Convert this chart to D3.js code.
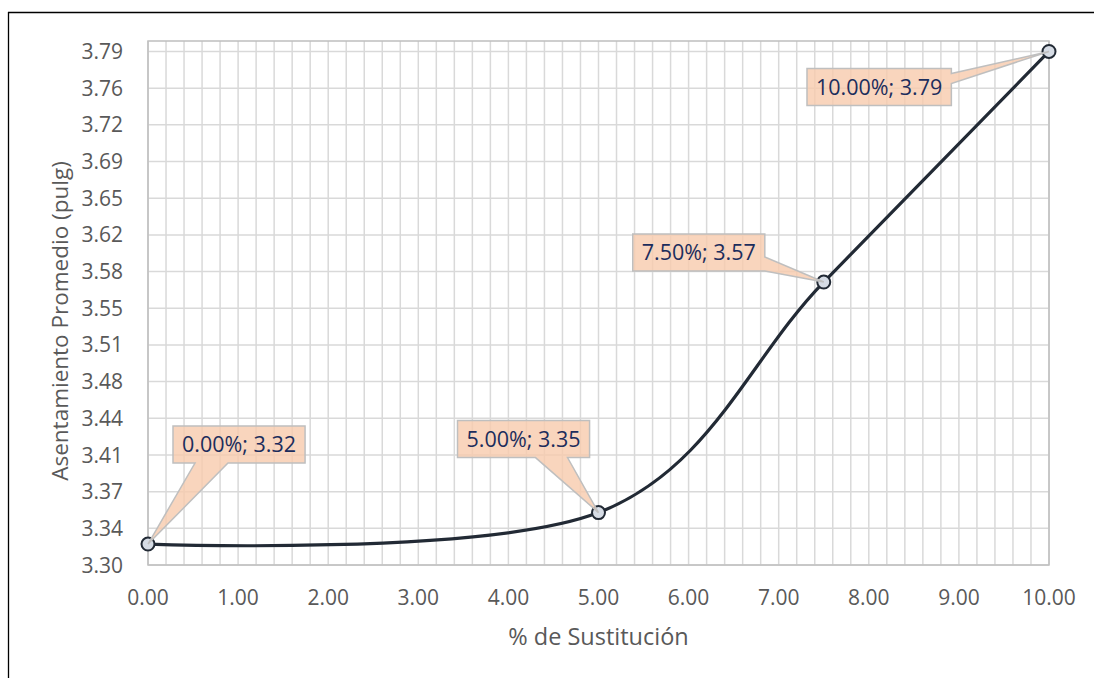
<!DOCTYPE html>
<html>
<head>
<meta charset="utf-8">
<script src="https://cdn.jsdelivr.net/npm/d3@7"></script>
<style>
  html, body { margin: 0; padding: 0; background: #fff; overflow: hidden; }
  svg { display: block; font-family: "Open Sans", "Noto Sans", sans-serif; }
</style>
</head>
<body>
<svg id="chart" width="1094" height="678"></svg>
<script>
// Percentage of substitution and average slump (in.)
const sustitucion = [0, 5, 7.5, 10];
const asentamiento = [3.32, 3.35, 3.57, 3.79];
const etiquetas = ["0.00%; 3.32", "5.00%; 3.35", "7.50%; 3.57", "10.00%; 3.79"];

// Axis ticks
const xTicks = [0, 1, 2, 3, 4, 5, 6, 7, 8, 9, 10];
const xTickLabels = ["0.00", "1.00", "2.00", "3.00", "4.00", "5.00", "6.00", "7.00", "8.00", "9.00", "10.00"];
const xMinorTicks = d3.range(0, 50).map(i => i / 5).filter(v => v % 1 !== 0);
const yTicks = [3.30, 3.335, 3.37, 3.405, 3.44, 3.475, 3.51, 3.545, 3.58, 3.615, 3.65, 3.685, 3.72, 3.755, 3.79];
const yTickLabels = ["3.30", "3.34", "3.37", "3.41", "3.44", "3.48", "3.51", "3.55", "3.58", "3.62", "3.65", "3.69", "3.72", "3.76", "3.79"];

const svg = d3.select("#chart");
const W = 1094, H = 678;
const plot = { left: 148, right: 1049, top: 41, bottom: 565 };

const x = d3.scaleLinear().domain([0, 10]).range([plot.left, plot.right]);
const y = d3.scaleLinear().domain([3.30, 3.80]).range([plot.bottom, plot.top]);

// Outer chart frame: left and top edges
const frame = svg.append("g").attr("stroke", "#000").attr("stroke-width", 1.3);
frame.append("line").attr("x1", 8.5).attr("x2", 8.5).attr("y1", 12).attr("y2", H + 5);
frame.append("line").attr("x1", 8).attr("x2", W + 5).attr("y1", 12.5).attr("y2", 12.5);

const grid = svg.append("g");
// Minor vertical gridlines
grid.selectAll("line.vminor").data(xMinorTicks).join("line")
  .attr("x1", d => x(d)).attr("x2", d => x(d))
  .attr("y1", plot.top).attr("y2", plot.bottom)
  .attr("stroke", "#d9d9d9").attr("stroke-width", 1.5);
// Major vertical gridlines
grid.selectAll("line.vmajor").data(xTicks).join("line")
  .attr("x1", d => x(d)).attr("x2", d => x(d))
  .attr("y1", plot.top).attr("y2", plot.bottom)
  .attr("stroke", "#d9d9d9").attr("stroke-width", 1.5);
// Horizontal gridlines
grid.selectAll("line.h").data(yTicks).join("line")
  .attr("x1", plot.left).attr("x2", plot.right)
  .attr("y1", d => y(d)).attr("y2", d => y(d))
  .attr("stroke", "#d9d9d9").attr("stroke-width", 1.5);

// Plot area border / axis lines
svg.append("rect")
  .attr("x", plot.left).attr("y", plot.top)
  .attr("width", plot.right - plot.left).attr("height", plot.bottom - plot.top)
  .attr("fill", "none").attr("stroke", "#bfbfbf").attr("stroke-width", 1.5);

// Tick labels
svg.append("g").selectAll("text").data(xTicks).join("text")
  .attr("x", d => x(d)).attr("y", 605)
  .attr("text-anchor", "middle")
  .attr("font-size", 21).attr("fill", "#595959")
  .text((d, i) => xTickLabels[i]);

svg.append("g").selectAll("text").data(yTicks).join("text")
  .attr("x", 123).attr("y", d => y(d))
  .attr("dy", "0.36em")
  .attr("text-anchor", "end")
  .attr("font-size", 21).attr("fill", "#595959")
  .text((d, i) => yTickLabels[i]);

// Axis titles
svg.append("text")
  .attr("x", (plot.left + plot.right) / 2).attr("y", 645)
  .attr("text-anchor", "middle")
  .attr("font-size", 23.5).attr("fill", "#595959")
  .text("% de Sustitución");

svg.append("text")
  .attr("transform", "translate(68,321) rotate(-90)")
  .attr("text-anchor", "middle")
  .attr("font-size", 22.5).attr("fill", "#595959")
  .text("Asentamiento Promedio (pulg)");

// Smoothed series line
const pts = sustitucion.map((s, i) => [s, asentamiento[i]]);
svg.append("path")
  .datum(pts)
  .attr("d", d3.line().x(d => x(d[0])).y(d => y(d[1])).curve(d3.curveCardinal.tension(0)))
  .attr("fill", "none").attr("stroke", "#222a35").attr("stroke-width", 3.2);

// Markers
svg.append("g").selectAll("circle").data(pts).join("circle")
  .attr("cx", d => x(d[0])).attr("cy", d => y(d[1]))
  .attr("r", 6.5)
  .attr("fill", "#d6dce5").attr("stroke", "#222a35").attr("stroke-width", 2);

// Data callouts: box offset from its point and where the pointer leaves the box
const callouts = [
  { dx: 25, dy: -118, side: "bottom", a: 22, b: 55 },
  { dx: -141, dy: -92, side: "bottom", a: 78, b: 110 },
  { dx: -191, dy: -48, side: "right", a: 23, b: 37 },
  { dx: -242, dy: 17, side: "right", a: 5, b: 15 }
];
const boxH = 37, padX = 9;
const cg = svg.append("g");
pts.forEach((p, i) => {
  const px = x(p[0]), py = y(p[1]);
  const c = callouts[i];
  const g = cg.append("g");
  const t = g.append("text")
    .attr("font-size", 21.5).attr("fill", "#1c2d5c")
    .attr("text-anchor", "middle")
    .text(etiquetas[i]);
  const tw = t.node().getComputedTextLength();
  const bw = tw + 2 * padX;
  const bx = px + c.dx, by = py + c.dy;
  let d;
  if (c.side === "bottom") {
    d = `M${bx},${by}H${bx + bw}V${by + boxH}H${bx + c.b}L${px},${py}L${bx + c.a},${by + boxH}H${bx}Z`;
  } else {
    d = `M${bx},${by}H${bx + bw}V${by + c.a}L${px},${py}L${bx + bw},${by + c.b}V${by + boxH}H${bx}Z`;
  }
  g.insert("path", "text")
    .attr("d", d)
    .attr("fill", "#f8cbad").attr("fill-opacity", 0.8)
    .attr("stroke", "#bfbfbf").attr("stroke-width", 1.5)
    .attr("stroke-linejoin", "miter");
  t.attr("x", bx + bw / 2).attr("y", by + boxH / 2).attr("dy", "0.36em");
});
</script>
</body>
</html>
